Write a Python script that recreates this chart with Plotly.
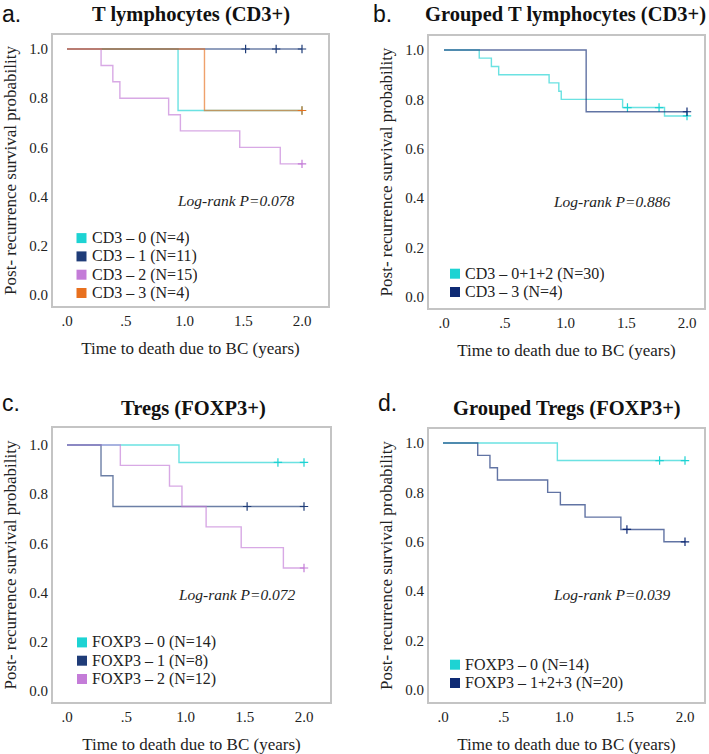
import plotly.graph_objects as go

# ---------------- data ----------------
# each curve: step times, survival after each step, censor times
# a. T lymphocytes (CD3+)
cd3_0_t = [0.0, 0.945, 2.0]
cd3_0_s = [1.0, 0.75, 0.75]
cd3_0_c = [2.0]

cd3_1_t = [0.0, 2.0]
cd3_1_s = [1.0, 1.0]
cd3_1_c = [1.52, 1.78, 2.0]

cd3_2_t = [0.0, 0.29, 0.39, 0.45, 0.865, 0.965, 1.47, 1.815, 2.0]
cd3_2_s = [1.0, 0.933, 0.867, 0.80, 0.733, 0.667, 0.60, 0.533, 0.533]
cd3_2_c = [2.0]

cd3_3_t = [0.0, 1.17, 2.0]
cd3_3_s = [1.0, 0.75, 0.75]
cd3_3_c = [2.0]

# b. Grouped T lymphocytes (CD3+)
cd3_012_t = [0.0, 0.29, 0.39, 0.45, 0.865, 0.945, 0.965, 1.47, 1.815, 2.0]
cd3_012_s = [1.0, 0.967, 0.933, 0.90, 0.867, 0.833, 0.80, 0.767, 0.733, 0.733]
cd3_012_c = [1.51, 1.77, 2.0]

cd3_3b_t = [0.0, 1.17, 2.0]
cd3_3b_s = [1.0, 0.75, 0.75]
cd3_3b_c = [2.0]

# c. Tregs (FOXP3+)
fox_0_t = [0.0, 0.945, 2.0]
fox_0_s = [1.0, 0.929, 0.929]
fox_0_c = [1.78, 2.0]

fox_1_t = [0.0, 0.287, 0.388, 2.0]
fox_1_s = [1.0, 0.875, 0.75, 0.75]
fox_1_c = [1.52, 2.0]

fox_2_t = [0.0, 0.45, 0.865, 0.97, 1.174, 1.47, 1.826, 2.0]
fox_2_s = [1.0, 0.917, 0.833, 0.75, 0.667, 0.583, 0.50, 0.50]
fox_2_c = [2.0]

# d. Grouped Tregs (FOXP3+)
fox_0d_t = [0.0, 0.945, 2.0]
fox_0d_s = [1.0, 0.929, 0.929]
fox_0d_c = [1.79, 2.0]

fox_123_t = [0.0, 0.287, 0.388, 0.45, 0.865, 0.97, 1.174, 1.47, 1.826, 2.0]
fox_123_s = [1.0, 0.95, 0.90, 0.85, 0.80, 0.75, 0.70, 0.65, 0.60, 0.60]
fox_123_c = [1.52, 2.0]

x_tickvals = [0, 0.5, 1.0, 1.5, 2.0]
x_ticktext = [".0", ".5", "1.0", "1.5", "2.0"]
y_tickvals = [0, 0.2, 0.4, 0.6, 0.8, 1.0]
y_ticktext = ["0.0", "0.2", "0.4", "0.6", "0.8", "1.0"]

CYAN = "#1dd3d3"
NAVY = "#1f3c78"
NAVY2 = "#0e2a74"
VIOLET = "#c47cd8"
ORANGE = "#e8701e"

SERIF = "Times New Roman, Liberation Serif, serif"
SANS = "Arial, Liberation Sans, sans-serif"


def surv_at(times, surv, t):
    """survival value of a step curve at time t"""
    val = surv[0]
    for ti, si in zip(times, surv):
        if ti <= t:
            val = si
    return val


# pixel geometry of each panel (frame, tick positions, legend placement)
panels = [
    dict(key="", title="T lymphocytes (CD3+)", letter="a.", p="Log-rank P=0.078",
         curves=[("CD3 – 0 (N=4)", cd3_0_t, cd3_0_s, cd3_0_c, CYAN),
                 ("CD3 – 1 (N=11)", cd3_1_t, cd3_1_s, cd3_1_c, NAVY),
                 ("CD3 – 2 (N=15)", cd3_2_t, cd3_2_s, cd3_2_c, VIOLET),
                 ("CD3 – 3 (N=4)", cd3_3_t, cd3_3_s, cd3_3_c, ORANGE)],
         px=(53, 328), py=(35, 306), x0=67, x2=302, y1=49, y0=295,
         leg_x=81.5, leg_y=293, letter_xy=(0, 14), title_xy=(191, 15), p_xy=(236, 200)),
    dict(key="2", title="Grouped T lymphocytes (CD3+)", letter="b.", p="Log-rank P=0.886",
         curves=[("CD3 – 0+1+2 (N=30)", cd3_012_t, cd3_012_s, cd3_012_c, CYAN),
                 ("CD3 – 3 (N=4)", cd3_3b_t, cd3_3b_s, cd3_3b_c, NAVY2)],
         px=(429, 704), py=(36, 308), x0=444, x2=687, y1=50, y0=297,
         leg_x=455, leg_y=292, letter_xy=(371, 14), title_xy=(565, 15), p_xy=(612, 201)),
    dict(key="3", title="Tregs (FOXP3+)", letter="c.", p="Log-rank P=0.072",
         curves=[("FOXP3 – 0 (N=14)", fox_0_t, fox_0_s, fox_0_c, CYAN),
                 ("FOXP3 – 1 (N=8)", fox_1_t, fox_1_s, fox_1_c, NAVY),
                 ("FOXP3 – 2 (N=12)", fox_2_t, fox_2_s, fox_2_c, VIOLET)],
         px=(53, 330), py=(428, 702), x0=67, x2=304, y1=445, y0=691,
         leg_x=82, leg_y=679, letter_xy=(0, 403), title_xy=(193, 408), p_xy=(237, 594)),
    dict(key="4", title="Grouped Tregs (FOXP3+)", letter="d.", p="Log-rank P=0.039",
         curves=[("FOXP3 – 0 (N=14)", fox_0d_t, fox_0d_s, fox_0d_c, CYAN),
                 ("FOXP3 – 1+2+3 (N=20)", fox_123_t, fox_123_s, fox_123_c, NAVY2)],
         px=(429, 704), py=(429, 702), x0=443, x2=685, y1=443, y0=690,
         leg_x=455, leg_y=683, letter_xy=(376, 403), title_xy=(567, 408), p_xy=(612, 594)),
]

W, H = 709, 754
LEG_STEP = 18.3
fig = go.Figure()
annotations = []
shapes = []
layout = {}


def px2x(v):
    return v / W


def px2y(v):
    return 1 - v / H


for pan in panels:
    k = pan["key"]
    xa, ya = "x" + k, "y" + k
    for name, t, s, c, col in pan["curves"]:
        fig.add_trace(go.Scatter(x=t, y=s, mode="lines", line=dict(color=col, width=1.4, shape="hv"),
                                 opacity=0.65, xaxis=xa, yaxis=ya, showlegend=False, hoverinfo="skip"))
        fig.add_trace(go.Scatter(x=c, y=[surv_at(t, s, ci) for ci in c], mode="markers",
                                 marker=dict(symbol="cross-thin", size=6, line=dict(color=col, width=1.2)),
                                 xaxis=xa, yaxis=ya, showlegend=False, hoverinfo="skip"))

    # axis ranges from pixel frame
    xs = 2.0 / (pan["x2"] - pan["x0"])
    ys = 1.0 / (pan["y0"] - pan["y1"])
    xr = [(pan["px"][0] - pan["x0"]) * xs, (pan["px"][1] - pan["x0"]) * xs]
    yr = [(pan["y0"] - pan["py"][1]) * ys, (pan["y0"] - pan["py"][0]) * ys]
    common = dict(showline=True, mirror=True, linecolor="#c4c4c4", linewidth=2,
                  showgrid=False, zeroline=False, ticks="",
                  tickfont=dict(family=SERIF, size=15, color="#222"))
    layout["xaxis" + k] = dict(common, domain=[px2x(pan["px"][0]), px2x(pan["px"][1])], range=xr,
                               anchor=ya, tickvals=x_tickvals, ticktext=x_ticktext,
                               title=dict(text="Time to death due to BC (years)", standoff=14,
                                          font=dict(family=SERIF, size=17, color="#222")))
    layout["yaxis" + k] = dict(common, domain=[px2y(pan["py"][1]), px2y(pan["py"][0])], range=yr,
                               anchor=xa, tickvals=y_tickvals, ticktext=y_ticktext,
                               title=dict(text="Post- recurrence survival probability", standoff=8,
                                          font=dict(family=SERIF, size=17, color="#222")))

    # legend: coloured squares + labels
    n = len(pan["curves"])
    for i, (name, t, s, c, col) in enumerate(pan["curves"]):
        cy = pan["leg_y"] - (n - 1 - i) * LEG_STEP
        shapes.append(dict(type="rect", xref="paper", yref="paper", line=dict(width=0), fillcolor=col,
                           x0=px2x(pan["leg_x"] - 5), x1=px2x(pan["leg_x"] + 5),
                           y0=px2y(cy + 5), y1=px2y(cy - 5)))
        annotations.append(dict(text=name, x=px2x(pan["leg_x"] + 8), y=px2y(cy), xref="paper", yref="paper",
                                showarrow=False, xanchor="left", yanchor="middle", height=LEG_STEP - 0.5,
                                font=dict(family=SERIF, size=16, color="#222")))

    annotations.append(dict(text="<b>" + pan["title"] + "</b>", x=px2x(pan["title_xy"][0]),
                            y=px2y(pan["title_xy"][1]), xref="paper", yref="paper", showarrow=False,
                            xanchor="center", yanchor="middle",
                            font=dict(family=SERIF, size=20.5, color="#111")))
    annotations.append(dict(text=pan["letter"], x=px2x(pan["letter_xy"][0]), y=px2y(pan["letter_xy"][1]),
                            xref="paper", yref="paper", showarrow=False, xanchor="left", yanchor="middle",
                            font=dict(family=SANS, size=23, color="#111")))
    annotations.append(dict(text="<i>" + pan["p"] + "</i>", x=px2x(pan["p_xy"][0]), y=px2y(pan["p_xy"][1]),
                            xref="paper", yref="paper", showarrow=False, xanchor="center", yanchor="middle",
                            font=dict(family=SERIF, size=15.5, color="#222")))

fig.update_layout(width=W, height=H, margin=dict(l=0, r=0, t=0, b=0),
                  plot_bgcolor="white", paper_bgcolor="white", showlegend=False,
                  annotations=annotations, shapes=shapes, **layout)

fig.write_html("out.html", config={"displayModeBar": False},
               post_script="document.body.style.margin='0px';")
